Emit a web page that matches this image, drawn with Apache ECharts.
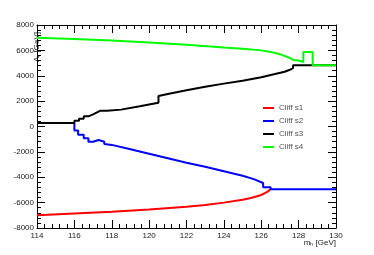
<!DOCTYPE html>
<html lang="en">
  <head>
    <meta charset="UTF-8" />
    <title>Cliff scan</title>
    <script src="https://cdn.jsdelivr.net/npm/echarts@6.0.0/dist/echarts.min.js"></script>
    <style>
      body { margin: 0; background: #fff; }
    </style>
  </head>
  <body>
    <div id="main" style="width: 374px; height: 255px"></div>
    <script type="text/javascript">
      // points are [m_h, A_t]; repeated x gives the histogram steps
      const cliffS1 = [
        [114, -7000], [116, -6860], [118, -6720], [120, -6540], [122, -6320],
        [123, -6180], [124, -6000], [125, -5780], [125.5, -5620], [126, -5400],
        [126.3, -5180], [126.5, -4950]
      ];
      const cliffS2 = [
        [116, 280], [116, -320], [116.2, -320], [116.2, -660], [116.5, -660],
        [116.5, -930], [116.75, -930], [116.75, -1200], [117, -1200], [117, -1060],
        [117.3, -1060], [117.3, -1200], [117.6, -1200], [117.6, -1380], [118, -1450],
        [119, -1800], [120, -2150], [121, -2500], [122, -2850], [123, -3180],
        [124, -3530], [125, -3880], [125.6, -4150], [126.1, -4450], [126.1, -4780],
        [126.5, -4780], [126.5, -4950], [130, -4950]
      ];
      const cliffS3 = [
        [114, 280], [116, 280], [116, 450], [116.25, 450], [116.25, 620], [116.5, 620],
        [116.5, 800], [116.75, 800], [116.75, 950], [117, 950], [117, 1100], [117.4, 1250],
        [117.75, 1250], [117.75, 1120], [118.5, 1330], [119.5, 1600], [120.5, 1880],
        [120.5, 2400], [121, 2560], [122, 2850], [123, 3130], [124, 3380], [125, 3600],
        [126, 3880], [127.25, 4320], [127.25, 4450], [127.5, 4450], [127.5, 4600],
        [127.7, 4600], [127.7, 4830], [130, 4830]
      ];
      const cliffS4 = [
        [114, 7000], [116, 6900], [118, 6780], [120, 6620], [122, 6450], [124, 6220],
        [125, 6130], [126, 6000], [126.5, 5880], [127, 5700], [127.5, 5420],
        [127.75, 5220], [127.95, 5220], [127.95, 5080], [128.25, 5080], [128.25, 5870],
        [128.75, 5870], [128.75, 4830], [130, 4830]
      ];
      const seriesNames = ["Cliff s1", "Cliff s2", "Cliff s3", "Cliff s4"];
      const seriesColors = ["#ff0000", "#0000ff", "#000000", "#00ff00"];

      const font = "Liberation Sans, Arial, sans-serif";

      // ROOT-style frame: ticks inside on all four sides
      const frameAxis = () => ({
        type: "value",
        axisLine: { show: true, onZero: false, lineStyle: { color: "#000", width: 1 } },
        axisTick: { show: true, inside: true, length: 8, lineStyle: { color: "#000", width: 1 } },
        minorTick: { show: true, splitNumber: 5, length: 4, lineStyle: { color: "#000", width: 1 } },
        splitLine: { show: false },
      });
      const xBottom = Object.assign(frameAxis(), {
        min: 114, max: 130, interval: 2,
        name: "m\u2095 [GeV]",
        nameLocation: "end",
        nameGap: 0,
        nameMoveOverlap: false,
        nameTextStyle: { fontSize: 8, color: "#222", align: "right", verticalAlign: "top", padding: [11, 0, 0, 0] },
      });
      xBottom.axisLabel = { fontSize: 8, color: "#222", margin: 4, fontFamily: font };
      const xTop = Object.assign(frameAxis(), { position: "top", min: 114, max: 130, interval: 2 });
      xTop.axisLabel = { show: false };
      const yLeft = Object.assign(frameAxis(), {
        min: -8000, max: 8000, interval: 2000,
        name: "A\u209C [GeV]",
        nameLocation: "end",
        nameRotate: 90,
        nameGap: -37,
        nameMoveOverlap: false,
        nameTextStyle: { fontSize: 8, color: "#222", padding: [0, 0, 50, 0] },
      });
      yLeft.axisLabel = { fontSize: 8, color: "#222", margin: 3, formatter: (v) => String(v) };
      const yRight = Object.assign(frameAxis(), { position: "right", min: -8000, max: 8000, interval: 2000 });
      yRight.axisLabel = { show: false };

      const myChart = echarts.init(document.getElementById("main"));
      myChart.setOption({
        animation: false,
        grid: { left: 37, right: 38, top: 25, bottom: 27 },
        legend: {
          orient: "vertical",
          left: 258,
          top: 99,
          icon: "rect",
          itemWidth: 11,
          itemHeight: 2,
          itemGap: 5,
          textStyle: { fontSize: 8 },
          data: seriesNames,
        },
        xAxis: [xBottom, xTop],
        yAxis: [yLeft, yRight],
        series: [cliffS1, cliffS2, cliffS3, cliffS4].map((d, i) => ({
          name: seriesNames[i],
          type: "line",
          data: d,
          showSymbol: false,
          color: seriesColors[i],
          lineStyle: { width: 2 },
          z: 3,
        })),
      });
    </script>
  </body>
</html>
